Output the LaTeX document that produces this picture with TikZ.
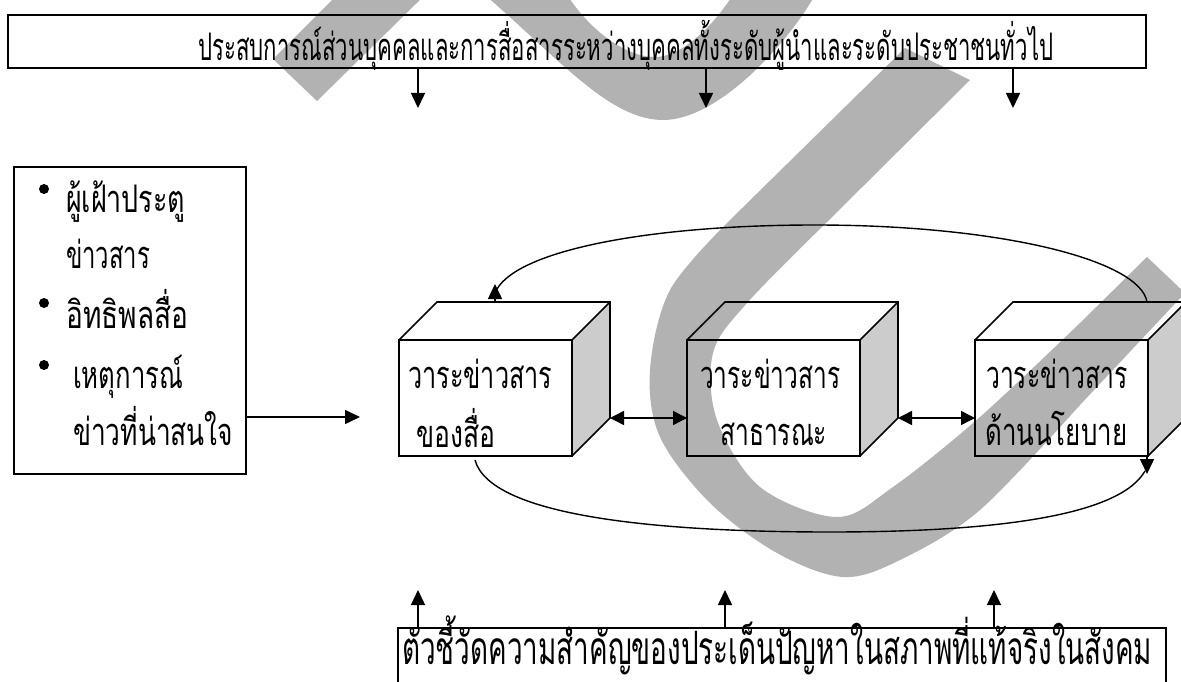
\documentclass[tikz,border=0pt]{standalone}
\usepackage{fontspec}
\usepackage{graphicx}
\usetikzlibrary{arrows.meta}
\newfontfamily\thai[Script=Thai]{Loma}
\definecolor{wmgray}{HTML}{B2B2B2}
\definecolor{sidegray}{HTML}{CCCCCC}
\newcommand{\tw}[2]{\resizebox{#1pt}{\height}{#2}}
\begin{document}
\begin{tikzpicture}[x=1pt,y=-1pt,
  box/.style={draw=black,line width=1.8pt,inner sep=0pt,outer sep=0pt,anchor=north west},
  edge/.style={draw=black,line width=1.7pt,line join=miter},
  arr/.style={line width=1.5pt,-{Triangle[length=15pt,width=14pt]}},
  darr/.style={line width=1.5pt,{Triangle[length=14pt,width=14pt]}-{Triangle[length=14pt,width=14pt]}},
  arcline/.style={line width=1.4pt},
  txt/.style={inner sep=0pt,anchor=base west,font=\thai\fontsize{38}{38}\selectfont},
  bigtxt/.style={inner sep=0pt,anchor=base west,font=\thai\fontsize{46}{46}\selectfont},
  dot/.style={circle,fill=black,inner sep=0pt,minimum size=10pt},
  wm/.style={fill=wmgray}]

\clip (0,0) rectangle (1181,682);
\fill[white] (0,0) rectangle (1181,682);

% cube fills
\foreach \x in {399,687,975}{
  \fill[white] (\x,340) rectangle ++(173,116);
  \fill[white] (\x,340) -- ++(38,-38) -- ++(173,0) -- ++(-38,38) -- cycle;
  \fill[sidegray] (\x+173,340) -- ++(38,-38) -- ++(0,116) -- ++(-38,38) -- cycle;
}

% watermark
\fill[wm] (273,59) -- (342,-10) -- (430,-10) -- (317,101) -- cycle;
\fill[wm] (485,-5) .. controls (560,60) and (610,120) .. (663,120)
  .. controls (720,120) and (790,40) .. (815,-5) -- (733,-5)
  .. controls (710,30) and (680,57) .. (655,57)
  .. controls (625,57) and (590,30) .. (567,-5) -- cycle;
\fill[wm] (970,80) -- (905,48) -- plot[smooth,tension=0.55] coordinates {(728,222) (670,290) (650,370) (660,437) (710,503) (777,553) (843,577) (900,560) (980,510) (1080,405)}
  -- (1185,293) -- (1147,257)
  -- plot[smooth,tension=0.55] coordinates {(1080,323) (980,417) (893,487) (837,517) (760,487) (717,420) (713,353) (747,303) (827,222)} -- cycle;

% boxes
\node[box,minimum width=1138pt,minimum height=53pt] (top) at (8,15) {};
\node[box,minimum width=232pt,minimum height=307pt] (left) at (14,167) {};
\node[box,minimum width=768pt,minimum height=80pt] (bot) at (398,628) {};

% cubes
\node[box,minimum width=173pt,minimum height=116pt] (c1) at (399,340) {};
\node[box,minimum width=173pt,minimum height=116pt] (c2) at (687,340) {};
\node[box,minimum width=173pt,minimum height=116pt] (c3) at (975,340) {};
\foreach \c in {c1,c2,c3}{
  \draw[edge] (\c.north west) -- ++(38,-38) -- ++(173,0) -- ++(0,116) -- ++(-38,38);
  \draw[edge] (\c.north east) -- ++(38,-38);
}

% texts
\node[txt] (ttop) at (198,61) {\tw{855}{ประสบการณ์ส่วนบุคคลและการสื่อสารระหว่างบุคคลทั้งระดับผู้นำและระดับประชาชนทั่วไป}};
\node[bigtxt] (tbot) at (402,664) {\tw{750}{ตัวชี้วัดความสำคัญของประเด็นปัญหาในสภาพที่แท้จริงในสังคม}};

\node[dot] (b1) at (44,189) {};
\node[dot] (b2) at (44,303) {};
\node[dot] (b3) at (44,365) {};
\node[txt] (l1) at (66,212) {\tw{119}{ผู้เฝ้าประตู}};
\node[txt] (l2) at (66,268) {\tw{84}{ข่าวสาร}};
\node[txt] (l3) at (66,328) {\tw{122}{อิทธิพลสื่อ}};
\node[txt] (l4) at (73,388) {\tw{110}{เหตุการณ์}};
\node[txt] (l5) at (73,445) {\tw{160}{ข่าวที่น่าสนใจ}};

\node[txt] (c1a) at (408,388) {\tw{144}{วาระข่าวสาร}};
\node[txt] (c1b) at (416,447) {\tw{79}{ของสื่อ}};
\node[txt] (c2a) at (700,388) {\tw{140}{วาระข่าวสาร}};
\node[txt] (c2b) at (720,445) {\tw{107}{สาธารณะ}};
\node[txt] (c3a) at (986,388) {\tw{141}{วาระข่าวสาร}};
\node[txt] (c3b) at (985,445) {\tw{142}{ด้านนโยบาย}};

% top arrows
\foreach \i/\x in {1/418,2/706,3/1013}{
  \coordinate (ta\i) at (\x,108);
  \draw[arr] (ta\i |- top.south) -- (ta\i);
}
% bottom arrows
\foreach \i/\x in {1/418,2/725,3/994}{
  \coordinate (ba\i) at (\x,590);
  \draw[arr] (ba\i |- bot.north) -- (ba\i);
}
% left arrow
\coordinate (la) at (360,417);
\draw[arr] (left.east |- la) -- (la);

% double arrows
\coordinate (c1br) at ([shift={(38,-38)}]c1.south east);
\coordinate (c2br) at ([shift={(38,-38)}]c2.south east);
\draw[darr] (c1br) -- (c1br -| c2.west);
\draw[darr] (c2br) -- (c2br -| c3.west);

% upper arc
\coordinate (a1s) at (1147,302);
\coordinate (a1e) at (497,289);
\coordinate (a1b) at (495,302);
\coordinate (a1t) at (495,284);
\draw[arcline] (a1s) .. controls (1140,260) and (1000,225) .. (815,225)
  .. controls (650,225) and (520,250) .. (a1e);
\draw[arr] (a1b) -- (a1t);

% lower arc
\coordinate (a2s) at (475,460);
\coordinate (a2e) at (1145,471);
\coordinate (a2b) at (1147,456);
\coordinate (a2t) at (1147,474);
\draw[arcline] (a2s) .. controls (490,515) and (650,532) .. (830,532)
  .. controls (1000,532) and (1120,515) .. (a2e);
\draw[arr] (a2b) -- (a2t);
\end{tikzpicture}
\end{document}
